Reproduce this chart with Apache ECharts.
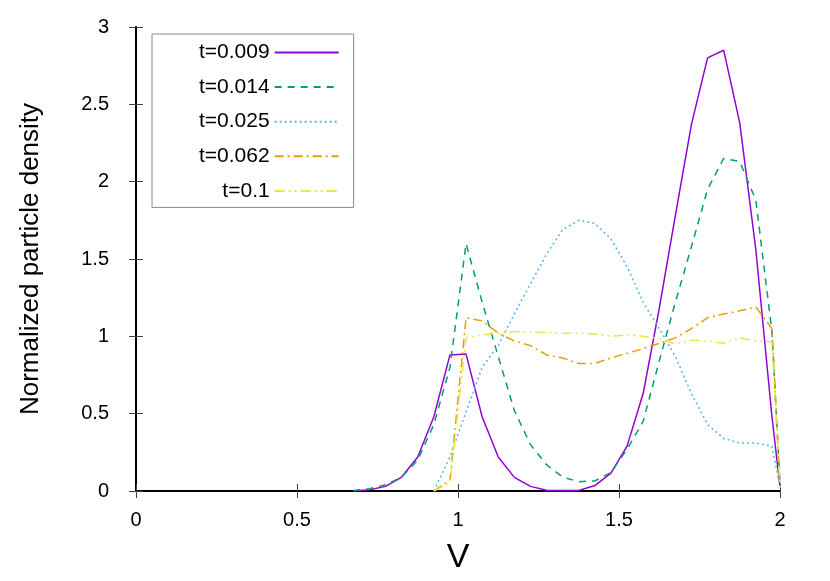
<!DOCTYPE html>
<html lang="en">
<head>
<meta charset="UTF-8">
<title>Normalized particle density</title>
<script src="https://cdn.jsdelivr.net/npm/echarts@6/dist/echarts.min.js"></script>
<style>
    html, body { margin: 0; padding: 0; background: #fff; }
    #main { width: 830px; height: 581px; }
</style>
</head>
<body>
<div id="main"></div>
<script>
    // bin centres (step 0.05) + the right edge
    var V = [0.625, 0.675, 0.725, 0.775, 0.825, 0.875, 0.925, 0.975, 1.025, 1.075,
             1.125, 1.175, 1.225, 1.275, 1.325, 1.375, 1.425, 1.475, 1.525, 1.575,
             1.625, 1.675, 1.725, 1.775, 1.825, 1.875, 1.925, 1.975, 2.0];

    var t009 = [null, 0.0, 0.008, 0.03, 0.09, 0.22, 0.48, 0.88, 0.885, 0.48,
                0.22, 0.088, 0.03, 0.005, 0.003, 0.003, 0.035, 0.115, 0.29, 0.63,
                1.18, 1.78, 2.37, 2.80, 2.85, 2.38, 1.56, 0.48, 0.03];
    var t014 = [null, 0.003, 0.015, 0.04, 0.09, 0.2, 0.43, 0.8, 1.6, 1.22,
                0.87, 0.52, 0.3, 0.17, 0.09, 0.06, 0.065, 0.12, 0.27, 0.45,
                0.84, 1.22, 1.58, 1.95, 2.15, 2.13, 1.88, 1.03, 0.05];
    var t025 = [null, null, null, null, null, null, 0.0, 0.22, 0.51, 0.8,
                0.94, 1.145, 1.34, 1.53, 1.69, 1.75, 1.73, 1.63, 1.45, 1.22,
                1.05, 0.87, 0.63, 0.43, 0.34, 0.31, 0.31, 0.29, 0.03];
    var t062 = [null, null, null, null, null, null, 0.0, 0.07, 1.12, 1.10,
                1.02, 0.97, 0.94, 0.88, 0.86, 0.825, 0.825, 0.86, 0.89, 0.92,
                0.955, 0.99, 1.05, 1.12, 1.145, 1.165, 1.19, 1.05, 0.02];
    var t1 = [null, null, null, null, null, null, 0.0, 0.05, 0.99, 1.01,
              1.02, 1.03, 1.03, 1.025, 1.02, 1.02, 1.015, 1.0, 1.01, 1.0,
              0.985, 0.95, 0.975, 0.97, 0.955, 0.99, 0.97, 0.965, 0.02];

    var names = ['t=0.009', 't=0.014', 't=0.025', 't=0.062', 't=0.1'];
    var colors = ['#9400d3', '#009e73', '#56b4e9', '#e69f00', '#f0e442'];
    var dashes = ['solid', [7, 6], [2, 3], [9, 4, 2, 4], [10, 4, 2, 4, 2, 4]];
    var values = [t009, t014, t025, t062, t1];

    var font = 'Liberation Sans, Arial, sans-serif';

    function pairs(arr) {
        return V.map(function (x, i) { return [x, arr[i]]; });
    }

    var series = names.map(function (n, i) {
        return {
            name: n,
            type: 'line',
            symbol: 'none',
            showSymbol: false,
            connectNulls: false,
            data: pairs(values[i]),
            lineStyle: { color: colors[i], width: 1.5, type: dashes[i] },
            itemStyle: { color: colors[i] }
        };
    });

    var tickStyle = { show: true, inside: true, length: 7, lineStyle: { color: '#444', width: 1 } };
    var frame = { show: true, lineStyle: { color: '#000', width: 2 } };

    var myChart = echarts.init(document.getElementById('main'));
    myChart.setOption({
        animation: false,
        backgroundColor: '#fff',
        grid: { left: 136, right: 50, top: 27, bottom: 90 },
        legend: {
            data: names,
            orient: 'vertical',
            align: 'right',
            left: 152,
            top: 34,
            padding: [8, 14, 6, 47],
            itemWidth: 64,
            itemHeight: 21,
            itemGap: 13.6,
            borderColor: '#888',
            borderWidth: 1,
            // hide the marker circle, keep only the line sample
            itemStyle: { opacity: 0, borderWidth: 0 },
            textStyle: { fontSize: 21, color: '#000', fontFamily: font }
        },
        xAxis: [{
            type: 'value', min: 0, max: 2, interval: 0.5,
            position: 'bottom',
            name: 'V', nameLocation: 'middle', nameGap: 50,
            nameTextStyle: { fontSize: 34, color: '#000', fontFamily: font },
            axisLine: frame, axisTick: tickStyle,
            axisLabel: { margin: 19, fontSize: 20, color: '#000', fontFamily: font },
            splitLine: { show: false }
        }, {
            type: 'value', min: 0, max: 2, interval: 0.5,
            position: 'top',
            axisLine: frame, axisTick: tickStyle,
            axisLabel: { show: false }, splitLine: { show: false }
        }],
        yAxis: [{
            type: 'value', min: 0, max: 3, interval: 0.5,
            position: 'left',
            name: 'Normalized particle density', nameLocation: 'middle', nameRotate: 90, nameGap: 92,
            nameTextStyle: { fontSize: 26, color: '#000', fontFamily: font },
            axisLine: frame, axisTick: tickStyle,
            axisLabel: { margin: 27, fontSize: 20, color: '#000', fontFamily: font },
            splitLine: { show: false }
        }, {
            type: 'value', min: 0, max: 3, interval: 0.5,
            position: 'right',
            axisLine: frame, axisTick: tickStyle,
            axisLabel: { show: false }, splitLine: { show: false }
        }],
        series: series
    });
</script>
</body>
</html>
